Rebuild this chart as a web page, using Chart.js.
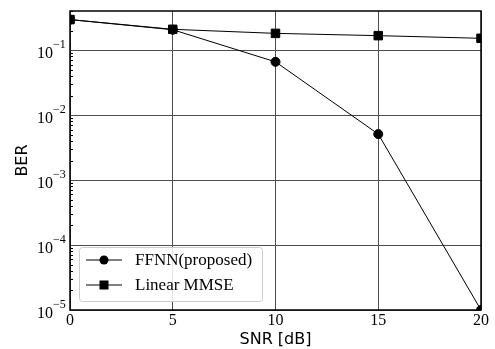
<!DOCTYPE html>
<html lang="en">
<head>
    <meta charset="UTF-8">
    <title>BER vs SNR</title>
    <script src="https://cdn.jsdelivr.net/npm/chart.js"></script>
    <style>
        body {
            margin: 0;
            padding: 0;
            background: #ffffff;
            overflow: hidden;
        }
        canvas {
            display: block;
        }
    </style>
</head>
<body>
    <canvas id="berChart" width="495" height="349"></canvas>
    <script>
        // Data
        const snr = [0, 5, 10, 15, 20];
        const ffnnBer = [0.295, 0.206, 0.066, 0.0051, 0.00001];
        const mmseBer = [0.295, 0.209, 0.181, 0.167, 0.152];
        const seriesNames = ['FFNN(proposed)', 'Linear MMSE'];
        const xTicks = [0, 5, 10, 15, 20];
        const yExponents = [-5, -4, -3, -2, -1];

        const serif = "'Liberation Serif', 'Times New Roman', serif";
        const sans = "'DejaVu Sans', sans-serif";

        // Draws the frame, minor ticks, tick labels, axis titles and legend
        const decorations = {
            id: 'decorations',
            afterDraw(chart) {
                const ctx = chart.ctx;
                const area = chart.chartArea;
                const xs = chart.scales.x;
                const ys = chart.scales.y;
                ctx.save();

                // frame
                ctx.strokeStyle = '#000';
                ctx.lineWidth = 1.5;
                ctx.strokeRect(area.left, area.top, area.right - area.left, area.bottom - area.top);

                // minor ticks on the log axis (inside)
                ctx.lineWidth = 1;
                ctx.beginPath();
                for (let e = -5; e <= -1; e++) {
                    for (let m = 2; m <= 9; m++) {
                        const v = m * Math.pow(10, e);
                        if (v > ys.max) continue;
                        const py = Math.round(ys.getPixelForValue(v)) + 0.5;
                        ctx.moveTo(area.left, py);
                        ctx.lineTo(area.left + 3, py);
                    }
                }
                ctx.stroke();

                // x tick labels
                ctx.fillStyle = '#000';
                ctx.font = '16px ' + serif;
                ctx.textAlign = 'center';
                ctx.textBaseline = 'alphabetic';
                xTicks.forEach(t => {
                    ctx.fillText(String(t), xs.getPixelForValue(t), area.bottom + 15);
                });

                // y tick labels with superscript exponents
                yExponents.forEach(e => {
                    const py = ys.getPixelForValue(Math.pow(10, e));
                    ctx.font = '16px ' + serif;
                    ctx.textAlign = 'right';
                    ctx.fillText('10', area.left - 17, py + 8);
                    ctx.font = '12px ' + serif;
                    ctx.textAlign = 'left';
                    ctx.fillText('\u2212' + Math.abs(e), area.left - 17, py - 2);
                });

                // axis titles
                ctx.font = '16px ' + sans;
                ctx.textAlign = 'center';
                ctx.fillText('SNR [dB]', (area.left + area.right) / 2, area.bottom + 34);
                ctx.save();
                ctx.translate(27, (area.top + area.bottom) / 2);
                ctx.rotate(-Math.PI / 2);
                ctx.fillText('BER', 0, 0);
                ctx.restore();

                // legend
                const lx = area.left + 9, ly = area.bottom - 63, lw = 183, lh = 54;
                ctx.fillStyle = 'rgba(255,255,255,0.85)';
                ctx.strokeStyle = '#cccccc';
                ctx.lineWidth = 1;
                ctx.beginPath();
                ctx.roundRect(lx + 0.5, ly + 0.5, lw, lh, 3);
                ctx.fill();
                ctx.stroke();

                const styles = ['circle', 'rect'];
                seriesNames.forEach((name, i) => {
                    const ry = ly + 13 + i * 25;
                    ctx.strokeStyle = '#000';
                    ctx.lineWidth = 1;
                    ctx.beginPath();
                    ctx.moveTo(lx + 7, ry);
                    ctx.lineTo(lx + 43, ry);
                    ctx.stroke();
                    ctx.fillStyle = '#000';
                    if (styles[i] === 'circle') {
                        ctx.beginPath();
                        ctx.arc(lx + 25, ry, 4.5, 0, Math.PI * 2);
                        ctx.fill();
                    } else {
                        ctx.fillRect(lx + 20.5, ry - 4.5, 9, 9);
                    }
                    ctx.font = '17px ' + serif;
                    ctx.textAlign = 'left';
                    ctx.textBaseline = 'middle';
                    ctx.fillText(name, lx + 56, ry + 1);
                    ctx.textBaseline = 'alphabetic';
                });

                ctx.restore();
            }
        };

        const berChart = new Chart(document.getElementById('berChart'), {
            type: 'line',
            data: {
                datasets: [
                    {
                        label: seriesNames[0],
                        data: snr.map((x, i) => ({ x: x, y: ffnnBer[i] })),
                        borderColor: '#000',
                        backgroundColor: '#000',
                        borderWidth: 1,
                        pointStyle: 'circle',
                        pointRadius: 4.5,
                        clip: 0
                    },
                    {
                        label: seriesNames[1],
                        data: snr.map((x, i) => ({ x: x, y: mmseBer[i] })),
                        borderColor: '#000',
                        backgroundColor: '#000',
                        borderWidth: 1,
                        pointStyle: 'rect',
                        pointRadius: 6,
                        clip: 0
                    }
                ]
            },
            options: {
                responsive: false,
                animation: false,
                layout: {
                    padding: { left: 70, right: 14, top: 11, bottom: 39 }
                },
                plugins: {
                    legend: { display: false },
                    tooltip: { enabled: false }
                },
                scales: {
                    x: {
                        type: 'linear',
                        min: 0,
                        max: 20,
                        ticks: { display: false, stepSize: 5 },
                        grid: { color: '#4d4d4d', lineWidth: 1, drawTicks: false },
                        border: { display: false }
                    },
                    y: {
                        type: 'logarithmic',
                        min: 1e-5,
                        max: 0.4,
                        afterBuildTicks(scale) {
                            scale.ticks = yExponents.map(e => ({ value: Math.pow(10, e) }));
                        },
                        ticks: { display: false },
                        grid: { color: '#4d4d4d', lineWidth: 1, drawTicks: false },
                        border: { display: false }
                    }
                }
            },
            plugins: [decorations]
        });
    </script>
</body>
</html>
